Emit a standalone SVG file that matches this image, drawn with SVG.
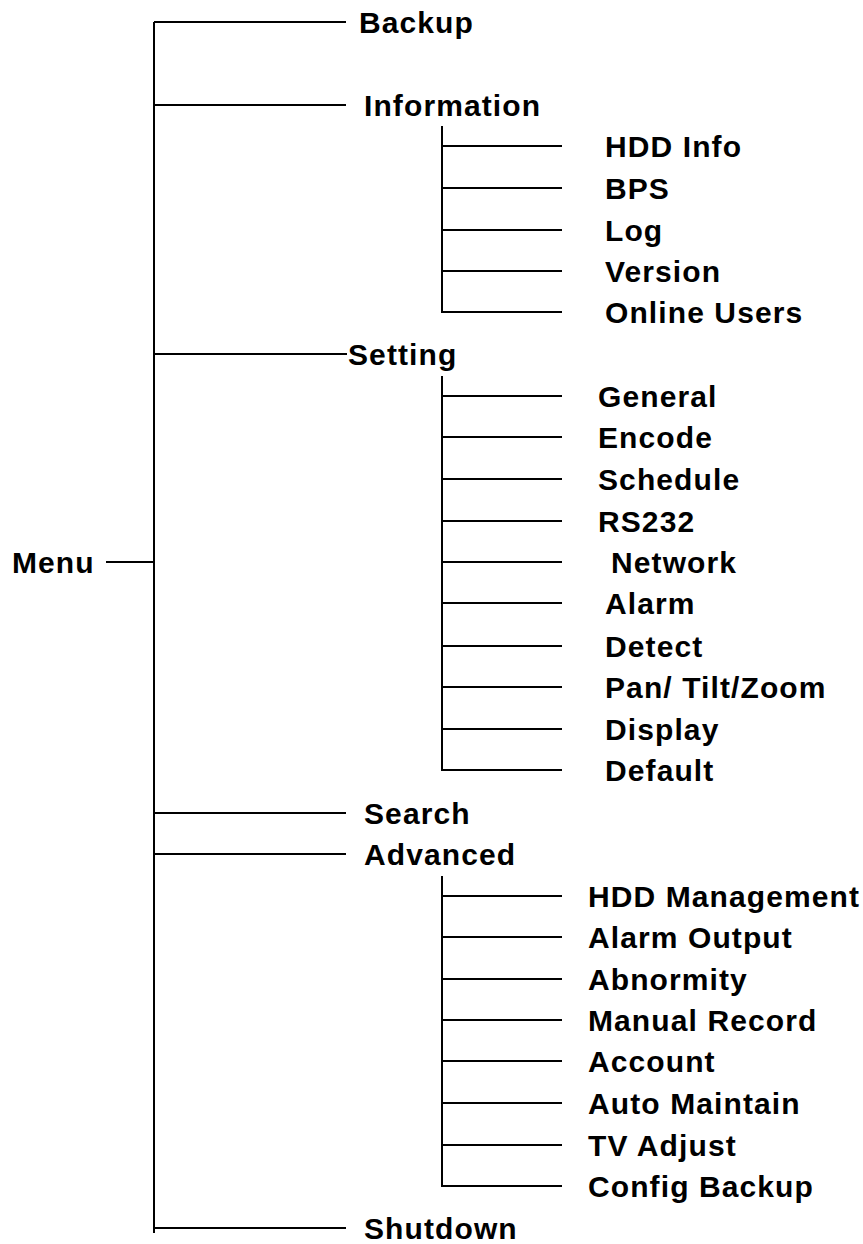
<svg xmlns="http://www.w3.org/2000/svg" width="863" height="1244" viewBox="0 0 863 1244">
<style>
.c line{stroke:#000;stroke-width:2;fill:none}
text{font-family:"Liberation Sans",Arial,sans-serif;font-weight:bold;font-size:30px;letter-spacing:1.1px;fill:#000}
</style>
<rect width="863" height="1244" fill="#fff"/>
<g id="connectors" class="c">
<line x1="154" y1="22" x2="154" y2="1233"/>
<line x1="106" y1="562" x2="154" y2="562"/>
<line x1="154" y1="22" x2="346" y2="22"/>
<line x1="154" y1="105" x2="346" y2="105"/>
<line x1="154" y1="354" x2="347" y2="354"/>
<line x1="154" y1="813" x2="346" y2="813"/>
<line x1="154" y1="854" x2="346" y2="854"/>
<line x1="154" y1="1228" x2="346" y2="1228"/>
<line x1="442" y1="126" x2="442" y2="313"/>
<line x1="442" y1="146" x2="562" y2="146"/>
<line x1="442" y1="188" x2="562" y2="188"/>
<line x1="442" y1="230" x2="562" y2="230"/>
<line x1="442" y1="271" x2="562" y2="271"/>
<line x1="442" y1="312" x2="562" y2="312"/>
<line x1="442" y1="376" x2="442" y2="771"/>
<line x1="442" y1="396" x2="562" y2="396"/>
<line x1="442" y1="437" x2="562" y2="437"/>
<line x1="442" y1="479" x2="562" y2="479"/>
<line x1="442" y1="521" x2="562" y2="521"/>
<line x1="442" y1="562" x2="562" y2="562"/>
<line x1="442" y1="603" x2="562" y2="603"/>
<line x1="442" y1="646" x2="562" y2="646"/>
<line x1="442" y1="687" x2="562" y2="687"/>
<line x1="442" y1="729" x2="562" y2="729"/>
<line x1="442" y1="770" x2="562" y2="770"/>
<line x1="442" y1="876" x2="442" y2="1187"/>
<line x1="442" y1="896" x2="562" y2="896"/>
<line x1="442" y1="937" x2="562" y2="937"/>
<line x1="442" y1="979" x2="562" y2="979"/>
<line x1="442" y1="1020" x2="562" y2="1020"/>
<line x1="442" y1="1061" x2="562" y2="1061"/>
<line x1="442" y1="1103" x2="562" y2="1103"/>
<line x1="442" y1="1145" x2="562" y2="1145"/>
<line x1="442" y1="1186" x2="562" y2="1186"/>
</g>
<g id="menu"><text x="12" y="573">Menu</text></g>
<g id="backup"><text x="359" y="33">Backup</text></g>
<g id="information"><text x="364" y="116">Information</text></g>
<g id="hdd-info"><text x="605" y="157">HDD Info</text></g>
<g id="bps"><text x="605" y="199">BPS</text></g>
<g id="log"><text x="605" y="241">Log</text></g>
<g id="version"><text x="605" y="282">Version</text></g>
<g id="online-users"><text x="605" y="323">Online Users</text></g>
<g id="setting"><text x="348" y="365">Setting</text></g>
<g id="general"><text x="598" y="407">General</text></g>
<g id="encode"><text x="598" y="448">Encode</text></g>
<g id="schedule"><text x="598" y="490">Schedule</text></g>
<g id="rs232"><text x="598" y="532">RS232</text></g>
<g id="network"><text x="611" y="573">Network</text></g>
<g id="alarm"><text x="605" y="614">Alarm</text></g>
<g id="detect"><text x="605" y="657">Detect</text></g>
<g id="ptz"><text x="605" y="698">Pan/ Tilt/Zoom</text></g>
<g id="display"><text x="605" y="740">Display</text></g>
<g id="default"><text x="605" y="781">Default</text></g>
<g id="search"><text x="364" y="824">Search</text></g>
<g id="advanced"><text x="364" y="865">Advanced</text></g>
<g id="hdd-management"><text x="588" y="907">HDD Management</text></g>
<g id="alarm-output"><text x="588" y="948">Alarm Output</text></g>
<g id="abnormity"><text x="588" y="990">Abnormity</text></g>
<g id="manual-record"><text x="588" y="1031">Manual Record</text></g>
<g id="account"><text x="588" y="1072">Account</text></g>
<g id="auto-maintain"><text x="588" y="1114">Auto Maintain</text></g>
<g id="tv-adjust"><text x="588" y="1156">TV Adjust</text></g>
<g id="config-backup"><text x="588" y="1197">Config Backup</text></g>
<g id="shutdown"><text x="364" y="1239">Shutdown</text></g>
</svg>
